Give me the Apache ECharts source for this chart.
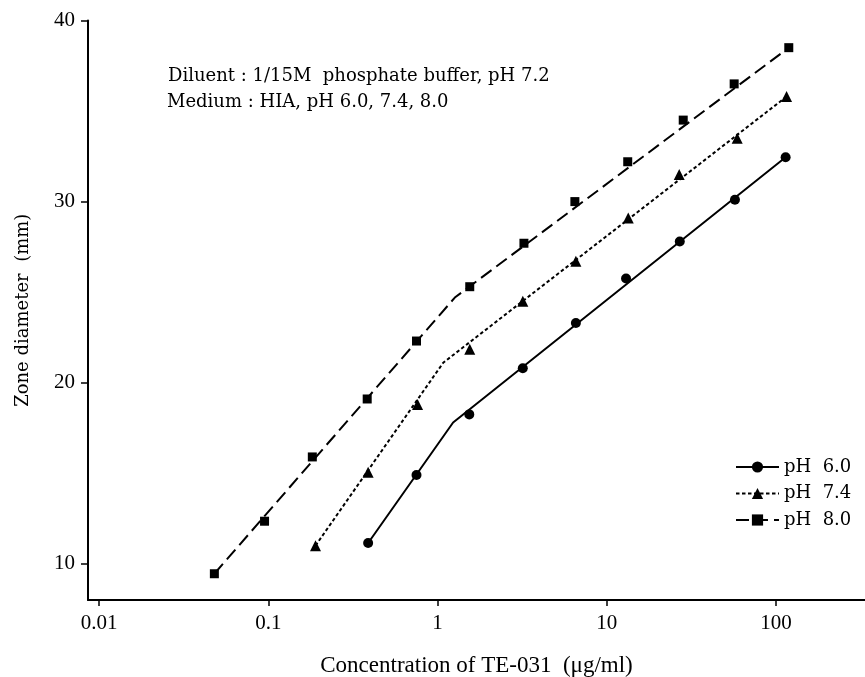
<!DOCTYPE html>
<html>
<head>
<meta charset="utf-8">
<script src="https://cdn.jsdelivr.net/npm/echarts@6/dist/echarts.min.js"></script>
<style>
  html, body { margin: 0; padding: 0; background: #fff; }
  #chart { width: 865px; height: 677px; }
</style>
</head>
<body>
<div id="chart"></div>
<script>
// Zone diameter (mm) against TE-031 concentration (µg/ml), three medium pH values
const concPH80 = [0.048, 0.095, 0.182, 0.384, 0.751, 1.55, 3.24, 6.48, 13.3, 28.3, 56.6, 119];
const zonePH80 = [9.45, 12.35, 15.9, 19.1, 22.3, 25.3, 27.7, 30.0, 32.2, 34.5, 36.5, 38.5];

const concPH74 = [0.190, 0.389, 0.762, 1.55, 3.19, 6.57, 13.4, 26.8, 59.0, 115.5];
const zonePH74 = [11.0, 15.05, 18.8, 21.85, 24.5, 26.7, 29.1, 31.5, 33.5, 35.8];

const concPH60 = [0.389, 0.751, 1.54, 3.19, 6.57, 13.0, 27.0, 57.2, 114];
const zonePH60 = [11.15, 14.9, 18.25, 20.8, 23.3, 25.75, 27.8, 30.1, 32.45];

// Fitted regression lines, two segments each [conc, zone]
const fitPH60 = [[0.389, 11.15], [1.236, 17.8], [114, 32.45]];
const fitPH74 = [[0.190, 11.0], [1.08, 21.1], [115.5, 35.8]];
const fitPH80 = [[0.048, 9.45], [1.265, 24.7], [119, 38.5]];

const seriesNames = ['pH 6.0', 'pH 7.4', 'pH 8.0'];
const legendLabels = ['pH  6.0', 'pH  7.4', 'pH  8.0'];
const xTickValues = [0.01, 0.1, 1, 10, 100];
const yTickValues = [10, 20, 30, 40];
const noteLines = [
  'Diluent : 1/15M  phosphate buffer, pH 7.2',
  'Medium : HIA, pH 6.0, 7.4, 8.0'
];
const xTitle = 'Concentration of TE-031  (\u03bcg/ml)';
const yTitle = 'Zone diameter  (mm)';

const INK = '#000';
const zip = (xs, ys) => xs.map((x, i) => [x, ys[i]]);

const groups = [
  { name: seriesNames[0], fit: fitPH60, pts: zip(concPH60, zonePH60), symbol: 'circle', size: 10, dash: 'solid' },
  { name: seriesNames[1], fit: fitPH74, pts: zip(concPH74, zonePH74), symbol: 'triangle', size: 11, dash: [3.5, 2.5] },
  { name: seriesNames[2], fit: fitPH80, pts: zip(concPH80, zonePH80), symbol: 'rect', size: 9, dash: [13, 6] }
];

const series = [];
groups.forEach(g => {
  series.push({
    name: g.name,
    type: 'line',
    data: g.fit,
    symbol: g.symbol,
    symbolSize: g.size,
    showSymbol: false,
    silent: true,
    lineStyle: { color: INK, width: 2, type: g.dash },
    itemStyle: { color: INK },
    z: 2
  });
  series.push({
    name: g.name + ' points',
    type: 'scatter',
    data: g.pts,
    symbol: g.symbol,
    symbolSize: g.size,
    silent: true,
    itemStyle: { color: INK, opacity: 1 },
    z: 3
  });
});

const chart = echarts.init(document.getElementById('chart'), null, { renderer: 'canvas' });
chart.setOption({
  animation: false,
  backgroundColor: '#fff',
  grid: { left: 88, top: 20.5, right: 0, bottom: 77, containLabel: false, outerBoundsMode: 'none' },
  legend: {
    data: seriesNames,
    orient: 'vertical',
    left: 735,
    top: 457,
    padding: 0,
    itemWidth: 43,
    itemHeight: 14,
    itemGap: 6.5,
    selectedMode: false,
    formatter: name => legendLabels[seriesNames.indexOf(name)],
    textStyle: { fontFamily: 'DejaVu Serif', fontSize: 18, color: INK, lineHeight: 20 }
  },
  xAxis: {
    type: 'log',
    logBase: 10,
    min: 0.0086,
    max: 335.7,
    name: xTitle,
    nameLocation: 'middle',
    nameGap: 54,
    nameTextStyle: { fontFamily: 'Liberation Serif', fontSize: 23, color: INK },
    axisLine: { onZero: false, lineStyle: { color: INK, width: 2 } },
    axisTick: { customValues: xTickValues, length: 6, lineStyle: { color: INK, width: 1.5 } },
    axisLabel: {
      customValues: xTickValues,
      margin: 13,
      fontFamily: 'Liberation Serif',
      fontSize: 21,
      color: INK,
      formatter: v => String(v)
    },
    splitLine: { show: false },
    minorTick: { show: false }
  },
  yAxis: {
    type: 'value',
    min: 8,
    max: 40,
    name: yTitle,
    nameLocation: 'middle',
    nameGap: 56,
    nameTextStyle: { fontFamily: 'DejaVu Serif', fontSize: 18, color: INK },
    axisLine: { onZero: false, lineStyle: { color: INK, width: 2 } },
    axisTick: { customValues: yTickValues, length: 7, lineStyle: { color: INK, width: 1.5 } },
    axisLabel: {
      customValues: yTickValues,
      margin: 13,
      fontFamily: 'Liberation Serif',
      fontSize: 21,
      color: INK
    },
    splitLine: { show: false }
  },
  graphic: [
    {
      type: 'text', x: 168, y: 76, silent: true,
      style: { text: noteLines[0], fontFamily: 'DejaVu Serif', fontSize: 18, fill: INK, verticalAlign: 'middle' }
    },
    {
      type: 'text', x: 167, y: 102, silent: true,
      style: { text: noteLines[1], fontFamily: 'DejaVu Serif', fontSize: 18, fill: INK, verticalAlign: 'middle' }
    }
  ],
  series: series
});
</script>
</body>
</html>
